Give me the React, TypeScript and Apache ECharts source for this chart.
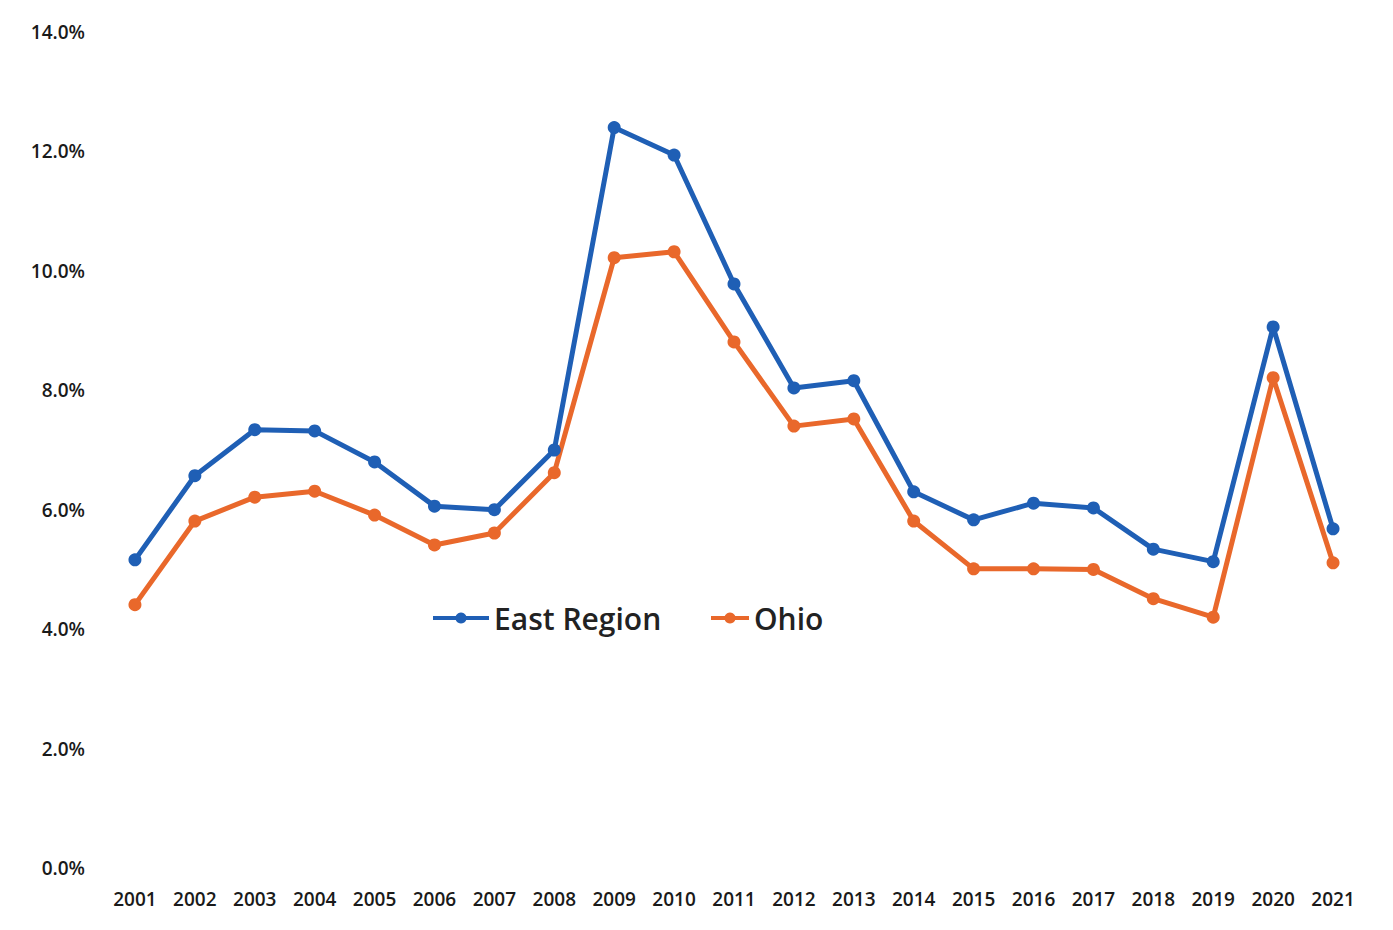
import React, { useEffect, useRef } from "react";
import * as echarts from "echarts";

const years = ["2001","2002","2003","2004","2005","2006","2007","2008","2009","2010","2011","2012","2013","2014","2015","2016","2017","2018","2019","2020","2021"];
const eastRegion = [5.16,6.57,7.34,7.32,6.8,6.06,6.0,7.0,12.4,11.94,9.78,8.04,8.16,6.3,5.83,6.11,6.03,5.34,5.13,9.06,5.68];
const ohio = [4.41,5.81,6.21,6.31,5.91,5.41,5.61,6.62,10.22,10.32,8.81,7.4,7.52,5.81,5.01,5.01,5.0,4.51,4.2,8.21,5.11];

const FONT = "'Open Sans', 'Noto Sans', sans-serif";
const BLUE = "#1f5fb5";
const ORANGE = "#e9682b";

export default function App() {
  const ref = useRef<HTMLDivElement>(null);
  useEffect(() => {
    document.body.style.margin = "0";
    const chart = echarts.init(ref.current!, null, { renderer: "svg" });
    const legendText = { fontFamily: FONT, fontSize: 30, fontWeight: 600, color: "#222" };
    chart.setOption({
      animation: false,
      backgroundColor: "#ffffff",
      grid: { left: 105, right: 30, top: 32, bottom: 62 },
      legend: [
        {
          left: 426,
          top: 598,
          itemWidth: 56,
          itemHeight: 14,
          lineStyle: { width: 4 },
          textStyle: legendText,
          data: ["East Region"],
        },
        {
          left: 704,
          top: 598,
          itemWidth: 38,
          itemHeight: 14,
          lineStyle: { width: 4 },
          textStyle: legendText,
          data: ["Ohio"],
        },
      ],
      xAxis: {
        type: "category",
        data: years,
        boundaryGap: true,
        axisLine: { show: false },
        axisTick: { show: false },
        axisLabel: { fontFamily: FONT, fontSize: 19, fontWeight: 600, color: "#1a1a1a", margin: 21 },
      },
      yAxis: {
        type: "value",
        min: 0,
        max: 14,
        interval: 2,
        splitLine: { show: false },
        axisLine: { show: false },
        axisTick: { show: false },
        axisLabel: {
          fontFamily: FONT,
          fontSize: 19,
          fontWeight: 600,
          color: "#1a1a1a",
          margin: 20,
          formatter: (v: number) => v.toFixed(1) + "%",
        },
      },
      series: [
        {
          name: "East Region",
          type: "line",
          data: eastRegion,
          symbol: "circle",
          symbolSize: 13,
          lineStyle: { width: 5, color: BLUE },
          itemStyle: { color: BLUE },
        },
        {
          name: "Ohio",
          type: "line",
          data: ohio,
          symbol: "circle",
          symbolSize: 13,
          lineStyle: { width: 5, color: ORANGE },
          itemStyle: { color: ORANGE },
        },
      ],
    });
    return () => chart.dispose();
  }, []);
  return <div ref={ref} style={{ width: 1393, height: 930 }} />;
}
